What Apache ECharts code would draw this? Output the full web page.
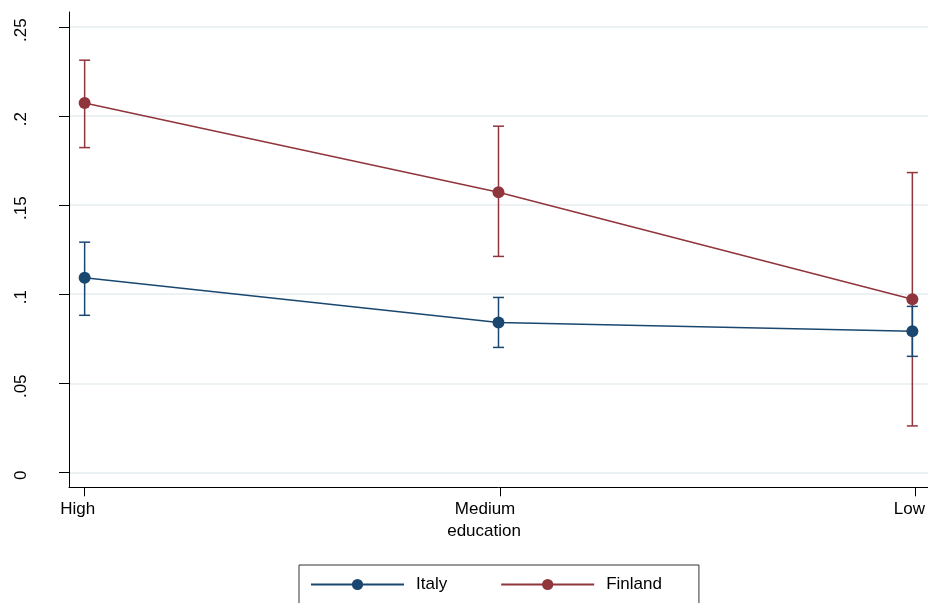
<!DOCTYPE html>
<html>
<head>
<meta charset="utf-8">
<script src="https://cdn.jsdelivr.net/npm/echarts@6/dist/echarts.min.js"></script>
<style>
  html, body { margin: 0; padding: 0; background: #fff; }
  #chart { width: 928px; height: 603px; }
</style>
</head>
<body>
<div id="chart"></div>
<script>
// Education categories along the x axis
var categories = ['High', 'Medium', 'Low'];
var xTitle = 'education';

// Predicted shares with 95% confidence bounds
var italyMean = [0.109, 0.084, 0.079];
var italyLow  = [0.088, 0.070, 0.065];
var italyHigh = [0.129, 0.098, 0.093];

var finlandMean = [0.207, 0.157, 0.097];
var finlandLow  = [0.182, 0.121, 0.026];
var finlandHigh = [0.231, 0.194, 0.168];

// y tick labels, Stata style (no leading zero)
var yTickLabels = ['0', '.05', '.1', '.15', '.2', '.25'];

var ITALY = '#1a476f';
var FINLAND = '#90353b';
var FONT = '"Liberation Sans", Arial, Helvetica, sans-serif';
var FS = 17;

function points(values) {
  return values.map(function (v, i) { return [i, v]; });
}
function bounds(lo, hi) {
  return lo.map(function (v, i) { return [i, v, hi[i]]; });
}

// vertical confidence bar with caps, placed through the axis scales
function ciRenderer(color) {
  return function (params, api) {
    var x = api.value(0);
    var top = api.coord([x, api.value(2)]);
    var bot = api.coord([x, api.value(1)]);
    var cap = 5.5;
    var style = { stroke: color, lineWidth: 1.5, fill: null };
    return {
      type: 'group',
      children: [
        { type: 'line', shape: { x1: top[0], y1: top[1], x2: bot[0], y2: bot[1] }, style: style },
        { type: 'line', shape: { x1: top[0] - cap, y1: top[1], x2: top[0] + cap, y2: top[1] }, style: style },
        { type: 'line', shape: { x1: bot[0] - cap, y1: bot[1], x2: bot[0] + cap, y2: bot[1] }, style: style }
      ]
    };
  };
}

var chart = echarts.init(document.getElementById('chart'), null, { renderer: 'canvas' });

var hidden = { show: false };

chart.setOption({
  animation: false,
  backgroundColor: '#ffffff',
  textStyle: { fontFamily: FONT },
  grid: [
    // data area with the axis lines
    { left: 69, top: 12, width: 862.4, height: 475.3 },
    // y ticks, labels and gridlines
    { left: 69, top: 27.1, width: 862.4, height: 445.2 },
    // x ticks and labels
    { left: 84.7, top: 12, width: 831, height: 475.3 }
  ],
  xAxis: [
    {
      gridIndex: 0, type: 'value', min: -0.0378, max: 2.0378,
      axisLine: { show: true, onZero: false, lineStyle: { color: '#000', width: 1 } },
      axisTick: hidden, axisLabel: hidden, splitLine: hidden
    },
    {
      gridIndex: 1, type: 'value', min: 0, max: 1, show: false
    },
    {
      gridIndex: 2, type: 'value', min: 0, max: 2, interval: 1,
      axisLine: { show: false, onZero: false },
      axisTick: { show: true, length: 9, lineStyle: { color: '#000', width: 1 } },
      splitLine: hidden,
      axisLabel: {
        margin: 14,
        color: '#000',
        fontSize: FS,
        fontFamily: FONT,
        formatter: function (v, i) { return '{c' + i + '|' + categories[i] + '}'; },
        rich: {
          c0: { fontSize: FS, fontFamily: FONT, color: '#000', padding: [0, 14, 0, 0] },
          c1: { fontSize: FS, fontFamily: FONT, color: '#000', padding: [0, 30, 0, 0] },
          c2: { fontSize: FS, fontFamily: FONT, color: '#000', padding: [0, 12, 0, 0] }
        }
      },
      name: xTitle,
      nameLocation: 'middle',
      nameGap: 32,
      nameTextStyle: { color: '#000', fontSize: FS, fontFamily: FONT, padding: [0, 32, 0, 0] }
    }
  ],
  yAxis: [
    {
      gridIndex: 0, type: 'value', min: -0.0084, max: 0.258,
      axisLine: { show: true, onZero: false, lineStyle: { color: '#000', width: 1 } },
      axisTick: hidden, axisLabel: hidden, splitLine: hidden
    },
    {
      gridIndex: 1, type: 'value', min: 0, max: 0.25, interval: 0.05,
      axisLine: { show: false, onZero: false },
      axisTick: { show: true, length: 10, lineStyle: { color: '#000', width: 1 } },
      axisLabel: {
        rotate: 90,
        margin: 39,
        color: '#000',
        fontSize: FS,
        fontFamily: FONT,
        padding: [0, 6, 0, 0],
        formatter: function (v, i) { return yTickLabels[i]; }
      },
      splitLine: { show: true, lineStyle: { color: '#e6edf1', width: 1.5 } }
    },
    {
      gridIndex: 2, type: 'value', min: 0, max: 1, show: false
    }
  ],
  legend: {
    data: ['Italy', 'Finland'],
    left: 299,
    top: 565,
    orient: 'horizontal',
    padding: [11, 37, 40, 11],
    itemGap: 53,
    itemWidth: 93,
    itemHeight: 14,
    borderColor: '#333',
    borderWidth: 1,
    borderRadius: 0,
    textStyle: { color: '#000', fontSize: FS, fontFamily: FONT, padding: [0, 0, 0, 7] }
  },
  series: [
    {
      name: 'Finland CI', type: 'custom', xAxisIndex: 0, yAxisIndex: 0, z: 2,
      renderItem: ciRenderer(FINLAND),
      data: bounds(finlandLow, finlandHigh),
      silent: true
    },
    {
      name: 'Finland', type: 'line', xAxisIndex: 0, yAxisIndex: 0, z: 3,
      data: points(finlandMean),
      symbol: 'circle', symbolSize: 12,
      lineStyle: { color: FINLAND, width: 1.5 },
      itemStyle: { color: FINLAND },
      silent: true
    },
    {
      name: 'Italy CI', type: 'custom', xAxisIndex: 0, yAxisIndex: 0, z: 4,
      renderItem: ciRenderer(ITALY),
      data: bounds(italyLow, italyHigh),
      silent: true
    },
    {
      name: 'Italy', type: 'line', xAxisIndex: 0, yAxisIndex: 0, z: 5,
      data: points(italyMean),
      symbol: 'circle', symbolSize: 12,
      lineStyle: { color: ITALY, width: 1.5 },
      itemStyle: { color: ITALY },
      silent: true
    }
  ]
});
</script>
</body>
</html>
